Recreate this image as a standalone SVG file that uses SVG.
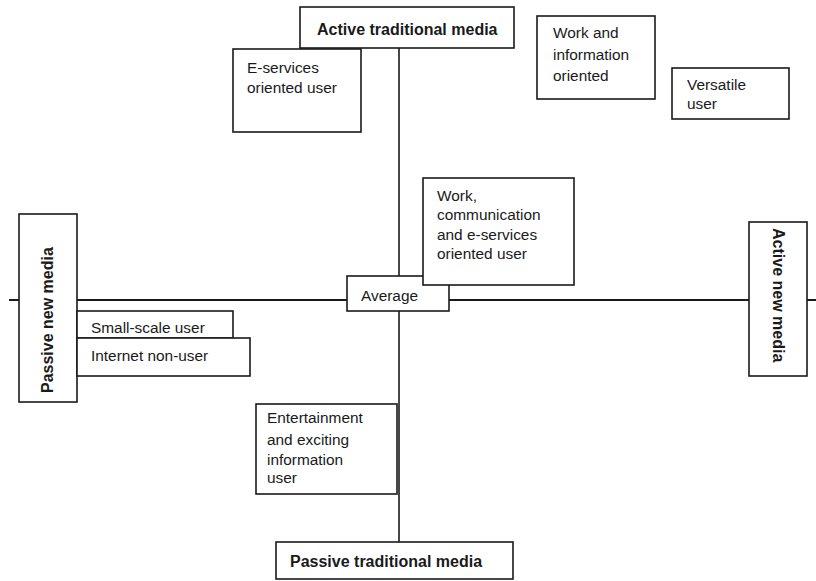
<svg xmlns="http://www.w3.org/2000/svg" width="816" height="581" viewBox="0 0 816 581">
<style>
.box{fill:#fff;stroke:#1a1a1a;stroke-width:1.6}
.t{font-family:"Liberation Sans",Arial,sans-serif;font-size:15.4px;fill:#1a1a1a}
.b{font-family:"Liberation Sans",Arial,sans-serif;font-size:16px;font-weight:bold;fill:#1a1a1a}
.ax{stroke:#1a1a1a;fill:none}
</style>
<rect width="816" height="581" fill="#fff"/>
<g id="connectors">
<line class="ax" x1="9" y1="300" x2="816" y2="300" stroke-width="2.2"/>
<line class="ax" x1="399" y1="48" x2="399" y2="542" stroke-width="1.6"/>
</g>
<g id="active-traditional"><rect class="box" x="300" y="7" width="214" height="41"/><text class="b" x="317" y="35">Active traditional media</text></g>
<g id="e-services"><rect class="box" x="233" y="49" width="128" height="83"/><text class="t" x="247" y="73">E-services</text><text class="t" x="247" y="93">oriented user</text></g>
<g id="work-info"><rect class="box" x="537" y="16" width="118" height="83"/><text class="t" x="553" y="38">Work and</text><text class="t" x="553" y="60">information</text><text class="t" x="553" y="81">oriented</text></g>
<g id="versatile"><rect class="box" x="672" y="68" width="117" height="51"/><text class="t" x="687" y="90">Versatile</text><text class="t" x="687" y="109">user</text></g>
<g id="average"><rect class="box" x="347" y="276" width="102" height="35"/><text class="t" x="361" y="301">Average</text></g>
<g id="work-comm"><rect class="box" x="423" y="178" width="151" height="107"/><text class="t" x="437" y="201">Work,</text><text class="t" x="437" y="220">communication</text><text class="t" x="437" y="240">and e-services</text><text class="t" x="437" y="259">oriented user</text></g>
<g id="passive-new"><rect class="box" x="19" y="214" width="58" height="188"/><text class="b" transform="translate(53,393) rotate(-90)">Passive new media</text></g>
<g id="small-scale"><rect class="box" x="77" y="311" width="156" height="27"/><text class="t" x="91" y="333">Small-scale user</text></g>
<g id="non-user"><rect class="box" x="77" y="338" width="173" height="38"/><text class="t" x="91" y="361">Internet non-user</text></g>
<g id="active-new"><rect class="box" x="749" y="222" width="58" height="154"/><text class="b" transform="translate(773,228) rotate(90)">Active new media</text></g>
<g id="entertainment"><rect class="box" x="256" y="404" width="141" height="90"/><text class="t" x="267" y="423">Entertainment</text><text class="t" x="267" y="445">and exciting</text><text class="t" x="267" y="465">information</text><text class="t" x="267" y="483">user</text></g>
<g id="passive-traditional"><rect class="box" x="276" y="542" width="237" height="37"/><text class="b" x="290" y="567">Passive traditional media</text></g>
</svg>
